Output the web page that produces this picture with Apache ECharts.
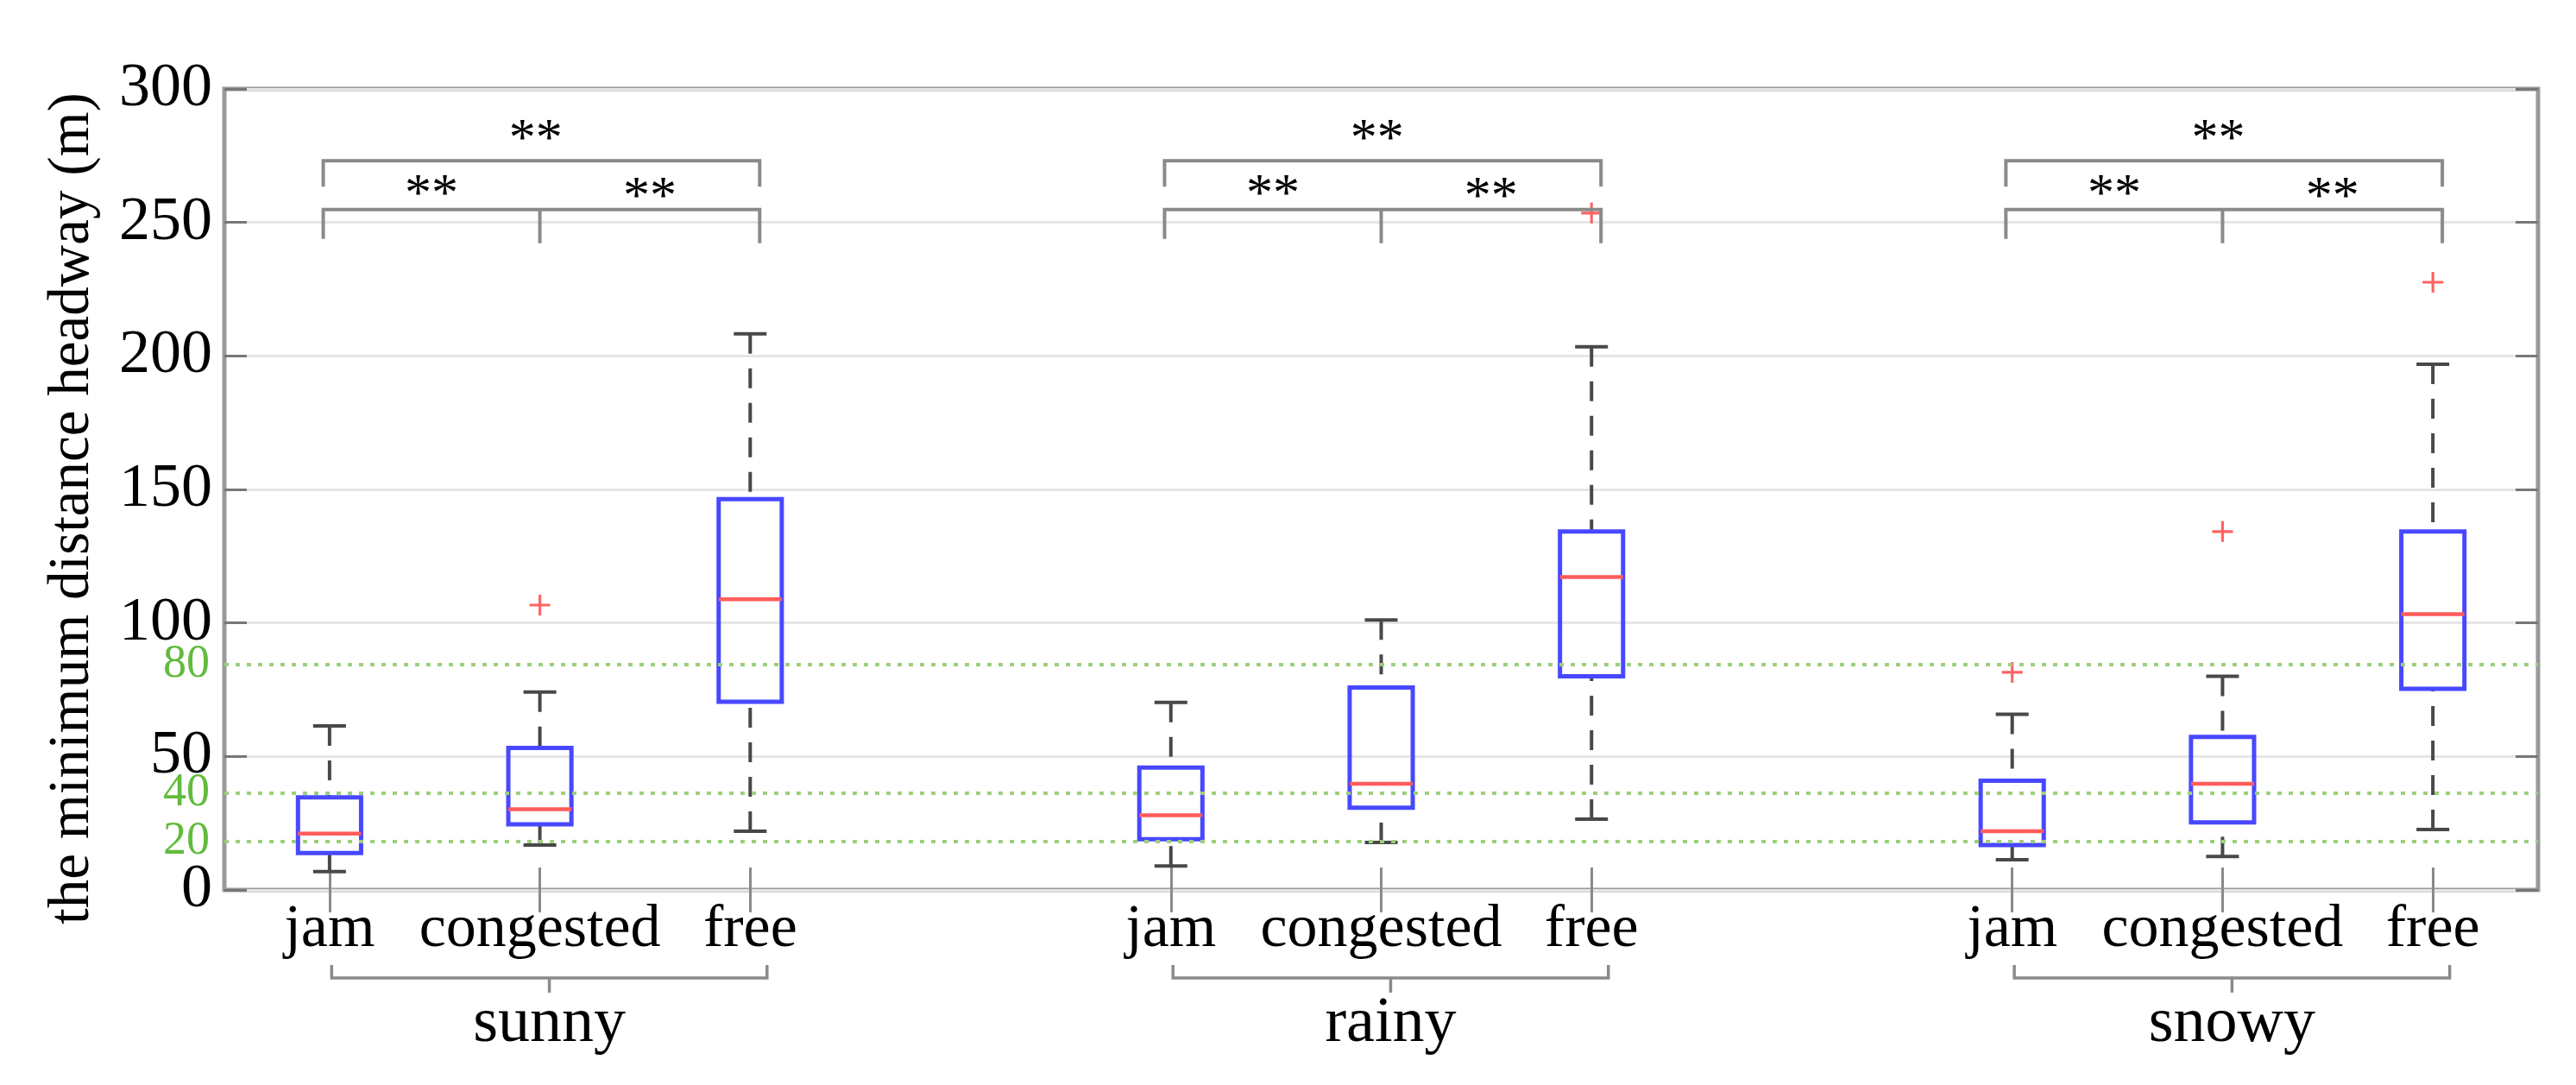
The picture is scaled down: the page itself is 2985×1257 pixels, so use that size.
<!DOCTYPE html>
<html><head><meta charset="utf-8">
<script src="https://cdn.jsdelivr.net/npm/echarts@6/dist/echarts.min.js"></script>
<style>html,body{margin:0;padding:0;background:#fff}#c{width:2985px;height:1257px}</style>
</head><body><div id="c"></div>
<script>
// ---------------- data ----------------
const weathers = ['sunny', 'rainy', 'snowy'];
const states = ['jam', 'congested', 'free'];
// box summaries: [lower whisker, Q1, median, Q3, upper whisker] (m)
const sunnyBoxes = [[6.9, 13.8, 21.1, 34.7, 61.4], [16.8, 24.6, 30.2, 53.2, 74.1], [22.0, 70.5, 108.9, 146.4, 208.3]];
const rainyBoxes = [[9.0, 19.0, 28.0, 45.8, 70.2], [17.8, 30.8, 39.8, 75.8, 101.1], [26.5, 80.0, 117.2, 134.2, 203.4]];
const snowyBoxes = [[11.3, 16.8, 22.0, 40.9, 65.8], [12.5, 25.3, 39.8, 57.3, 80.0], [22.6, 75.3, 103.3, 134.2, 196.9]];
// outliers: [weather index, state index, value]
const outliers = [[0, 1, 106.7], [1, 2, 253.5], [2, 0, 81.5], [2, 1, 134.2], [2, 2, 227.6]];
// green reference lines (drawn position) and their labels
const refLineValues = [84.5, 36.4, 18.2];
const refLineLabels = ['80', '40', '20'];
// y axis
const yMin = 0, yMax = 300, yStep = 50;
// significance brackets (value units)
const sigLowerTop = 254.8, sigLowerLegs = [243.8, 242.2, 242.2];
const sigUpperTop = 273.1, sigUpperLeg = 263.4;
const sigPairStarY = [264, 263], sigTopStarY = 284.5;
const sigText = '**';
const yTitle = 'the minimum distance headway (m)';

// ---------------- build ----------------
const categories = [];
weathers.forEach((w, wi) => {
  states.forEach(s => categories.push(w + '|' + s));
  if (wi < weathers.length - 1) categories.push('gap' + wi);
});
const catIndex = (wi, si) => wi * (states.length + 1) + si;
const allBoxes = [sunnyBoxes, rainyBoxes, snowyBoxes];
const boxData = [];
allBoxes.forEach((g, wi) => g.forEach((b, si) => boxData.push([catIndex(wi, si)].concat(b))));
const outlierData = outliers.map(o => [catIndex(o[0], o[1]), o[2]]);
const groupData = weathers.map((w, wi) => [catIndex(wi, 0), catIndex(wi, 1), catIndex(wi, 2)]);
const isCat = (v) => String(v).indexOf('|') >= 0;

const FONT = '"Liberation Serif", "Times New Roman", serif';
const GRAY = '#8a8a8a';

function renderBox(params, api) {
  const x = api.value(0);
  const p = [1, 2, 3, 4, 5].map(i => api.coord([x, api.value(i)]));
  const band = api.size([1, 0])[0];
  const hw = band * 0.15, cw = band * 0.078;
  const cx = p[0][0];
  const yLo = p[0][1], yQ1 = p[1][1], yMed = p[2][1], yQ3 = p[3][1], yHi = p[4][1];
  const wh = { stroke: '#484848', lineWidth: 4, lineDash: [23, 17], fill: null };
  const cap = { stroke: '#484848', lineWidth: 4, fill: null };
  return { type: 'group', children: [
    { type: 'line', shape: { x1: cx, y1: yHi, x2: cx, y2: yQ3 }, style: wh },
    { type: 'line', shape: { x1: cx, y1: yLo, x2: cx, y2: yQ1 }, style: wh },
    { type: 'line', shape: { x1: cx - cw, y1: yHi, x2: cx + cw, y2: yHi }, style: cap },
    { type: 'line', shape: { x1: cx - cw, y1: yLo, x2: cx + cw, y2: yLo }, style: cap },
    { type: 'rect', shape: { x: cx - hw, y: yQ3, width: 2 * hw, height: yQ1 - yQ3 }, style: { fill: null, stroke: '#4848ff', lineWidth: 5 } },
    { type: 'line', shape: { x1: cx - hw, y1: yMed, x2: cx + hw, y2: yMed }, style: { stroke: '#ff5c5c', lineWidth: 4.5 } }
  ]};
}

function renderSig(params, api) {
  const band = api.size([1, 0])[0];
  const xj = api.coord([api.value(0), 0])[0];
  const xc = api.coord([api.value(1), 0])[0];
  const xf = api.coord([api.value(2), 0])[0];
  const L = xj - band * 0.03, R = xf + band * 0.045;
  const Y = v => api.coord([api.value(0), v])[1];
  const st = { stroke: GRAY, lineWidth: 4, fill: null };
  const tx = { font: '62px ' + FONT, fill: '#000', align: 'center', verticalAlign: 'middle' };
  const star = (x, v) => ({ type: 'text', x: x, y: Y(v) + 12, style: Object.assign({ text: sigText }, tx) });
  return { type: 'group', children: [
    { type: 'polyline', shape: { points: [[L, Y(sigUpperLeg)], [L, Y(sigUpperTop)], [R, Y(sigUpperTop)], [R, Y(sigUpperLeg)]] }, style: st },
    { type: 'polyline', shape: { points: [[L, Y(sigLowerLegs[0])], [L, Y(sigLowerTop)], [R, Y(sigLowerTop)], [R, Y(sigLowerLegs[2])]] }, style: st },
    { type: 'line', shape: { x1: xc, y1: Y(sigLowerTop), x2: xc, y2: Y(sigLowerLegs[1]) }, style: st },
    star(xc - band * 0.02, sigTopStarY),
    star((L + xc) / 2, sigPairStarY[0]),
    star((xc + R) / 2, sigPairStarY[1])
  ]};
}

function renderGroup(params, api) {
  const band = api.size([1, 0])[0];
  const pj = api.coord([api.value(0), yMin]);
  const pf = api.coord([api.value(2), yMin]);
  const base = pj[1];
  const L = pj[0] + band * 0.01, R = pf[0] + band * 0.08;
  const M = (L + R) / 2;
  const st = { stroke: GRAY, lineWidth: 3.5, fill: null };
  return { type: 'group', children: [
    { type: 'polyline', shape: { points: [[L, base + 87], [L, base + 102], [R, base + 102], [R, base + 87]] }, style: st },
    { type: 'line', shape: { x1: M, y1: base + 102, x2: M, y2: base + 119 }, style: st },
    { type: 'text', x: M, y: base + 156, style: { text: weathers[params.dataIndex], font: '74px ' + FONT, fill: '#000', align: 'center', verticalAlign: 'middle' } }
  ]};
}

const tickInterval = (i, v) => isCat(v);
const chart = echarts.init(document.getElementById('c'), null, { renderer: 'canvas' });
chart.setOption({
  backgroundColor: '#ffffff',
  animation: false,
  grid: { left: 260, right: 44, top: 103, bottom: 226, show: true, borderColor: '#999999', borderWidth: 5, backgroundColor: 'transparent', outerBoundsMode: 'none', containLabel: false },
  xAxis: [{
    type: 'category', data: categories, position: 'bottom', boundaryGap: true,
    axisLine: { show: false },
    axisTick: { show: true, inside: true, length: 26, alignWithLabel: true, interval: tickInterval, lineStyle: { color: '#8a8a8a', width: 3 } },
    axisLabel: { interval: 0, margin: 12, formatter: v => isCat(v) ? v.split('|')[1] : '', fontSize: 70, fontFamily: FONT, color: '#000' },
    splitLine: { show: false }
  }, {
    type: 'category', data: categories, position: 'top', boundaryGap: true,
    axisLine: { show: false },
    axisTick: { show: true, inside: true, length: 26, alignWithLabel: true, interval: tickInterval, lineStyle: { color: '#8a8a8a', width: 3 } },
    axisLabel: { show: false }, splitLine: { show: false }
  }],
  yAxis: [{
    type: 'value', min: yMin, max: yMax, interval: yStep, position: 'left',
    name: yTitle, nameLocation: 'middle', nameGap: 142,
    nameTextStyle: { fontSize: 67, fontFamily: FONT, color: '#000', padding: [0, 44, 0, 0] },
    axisLine: { show: false },
    axisTick: { show: true, inside: true, length: 26, lineStyle: { color: '#777777', width: 3 } },
    axisLabel: { fontSize: 72, fontFamily: FONT, color: '#000', margin: 14 },
    splitLine: { show: true, lineStyle: { color: '#e6e6e6', width: 3 } }
  }, {
    type: 'value', min: yMin, max: yMax, interval: yStep, position: 'right',
    axisLine: { show: false },
    axisTick: { show: true, inside: true, length: 26, lineStyle: { color: '#777777', width: 3 } },
    axisLabel: { show: false }, splitLine: { show: false }
  }],
  series: [{
    type: 'custom', name: 'boxes', renderItem: renderBox, data: boxData,
    encode: { x: 0, y: [1, 2, 3, 4, 5] }, z: 3, clip: false
  }, {
    type: 'scatter', name: 'outliers', data: outlierData, z: 4,
    symbol: 'path://M-1.3,-10 L1.3,-10 L1.3,-1.3 L10,-1.3 L10,1.3 L1.3,1.3 L1.3,10 L-1.3,10 L-1.3,1.3 L-10,1.3 L-10,-1.3 L-1.3,-1.3 Z',
    symbolSize: 24, itemStyle: { color: '#ff3b3b' },
    markLine: {
      silent: true, symbol: ['none', 'none'], animation: false,
      lineStyle: { type: [5, 8], color: '#9ccf7c', width: 4 },
      label: { show: true, position: 'start', distance: 17, fontSize: 54, fontFamily: FONT, color: '#62bb3c',
        formatter: p => refLineLabels[p.dataIndex] },
      emphasis: { disabled: true },
      data: refLineValues.map(v => ({ yAxis: v }))
    }
  }, {
    type: 'custom', name: 'significance', renderItem: renderSig, data: groupData,
    encode: { x: [0, 1, 2] }, z: 5, clip: false
  }, {
    type: 'custom', name: 'groups', renderItem: renderGroup, data: groupData,
    encode: { x: [0, 1, 2] }, z: 5, clip: false
  }]
});
</script></body></html>
